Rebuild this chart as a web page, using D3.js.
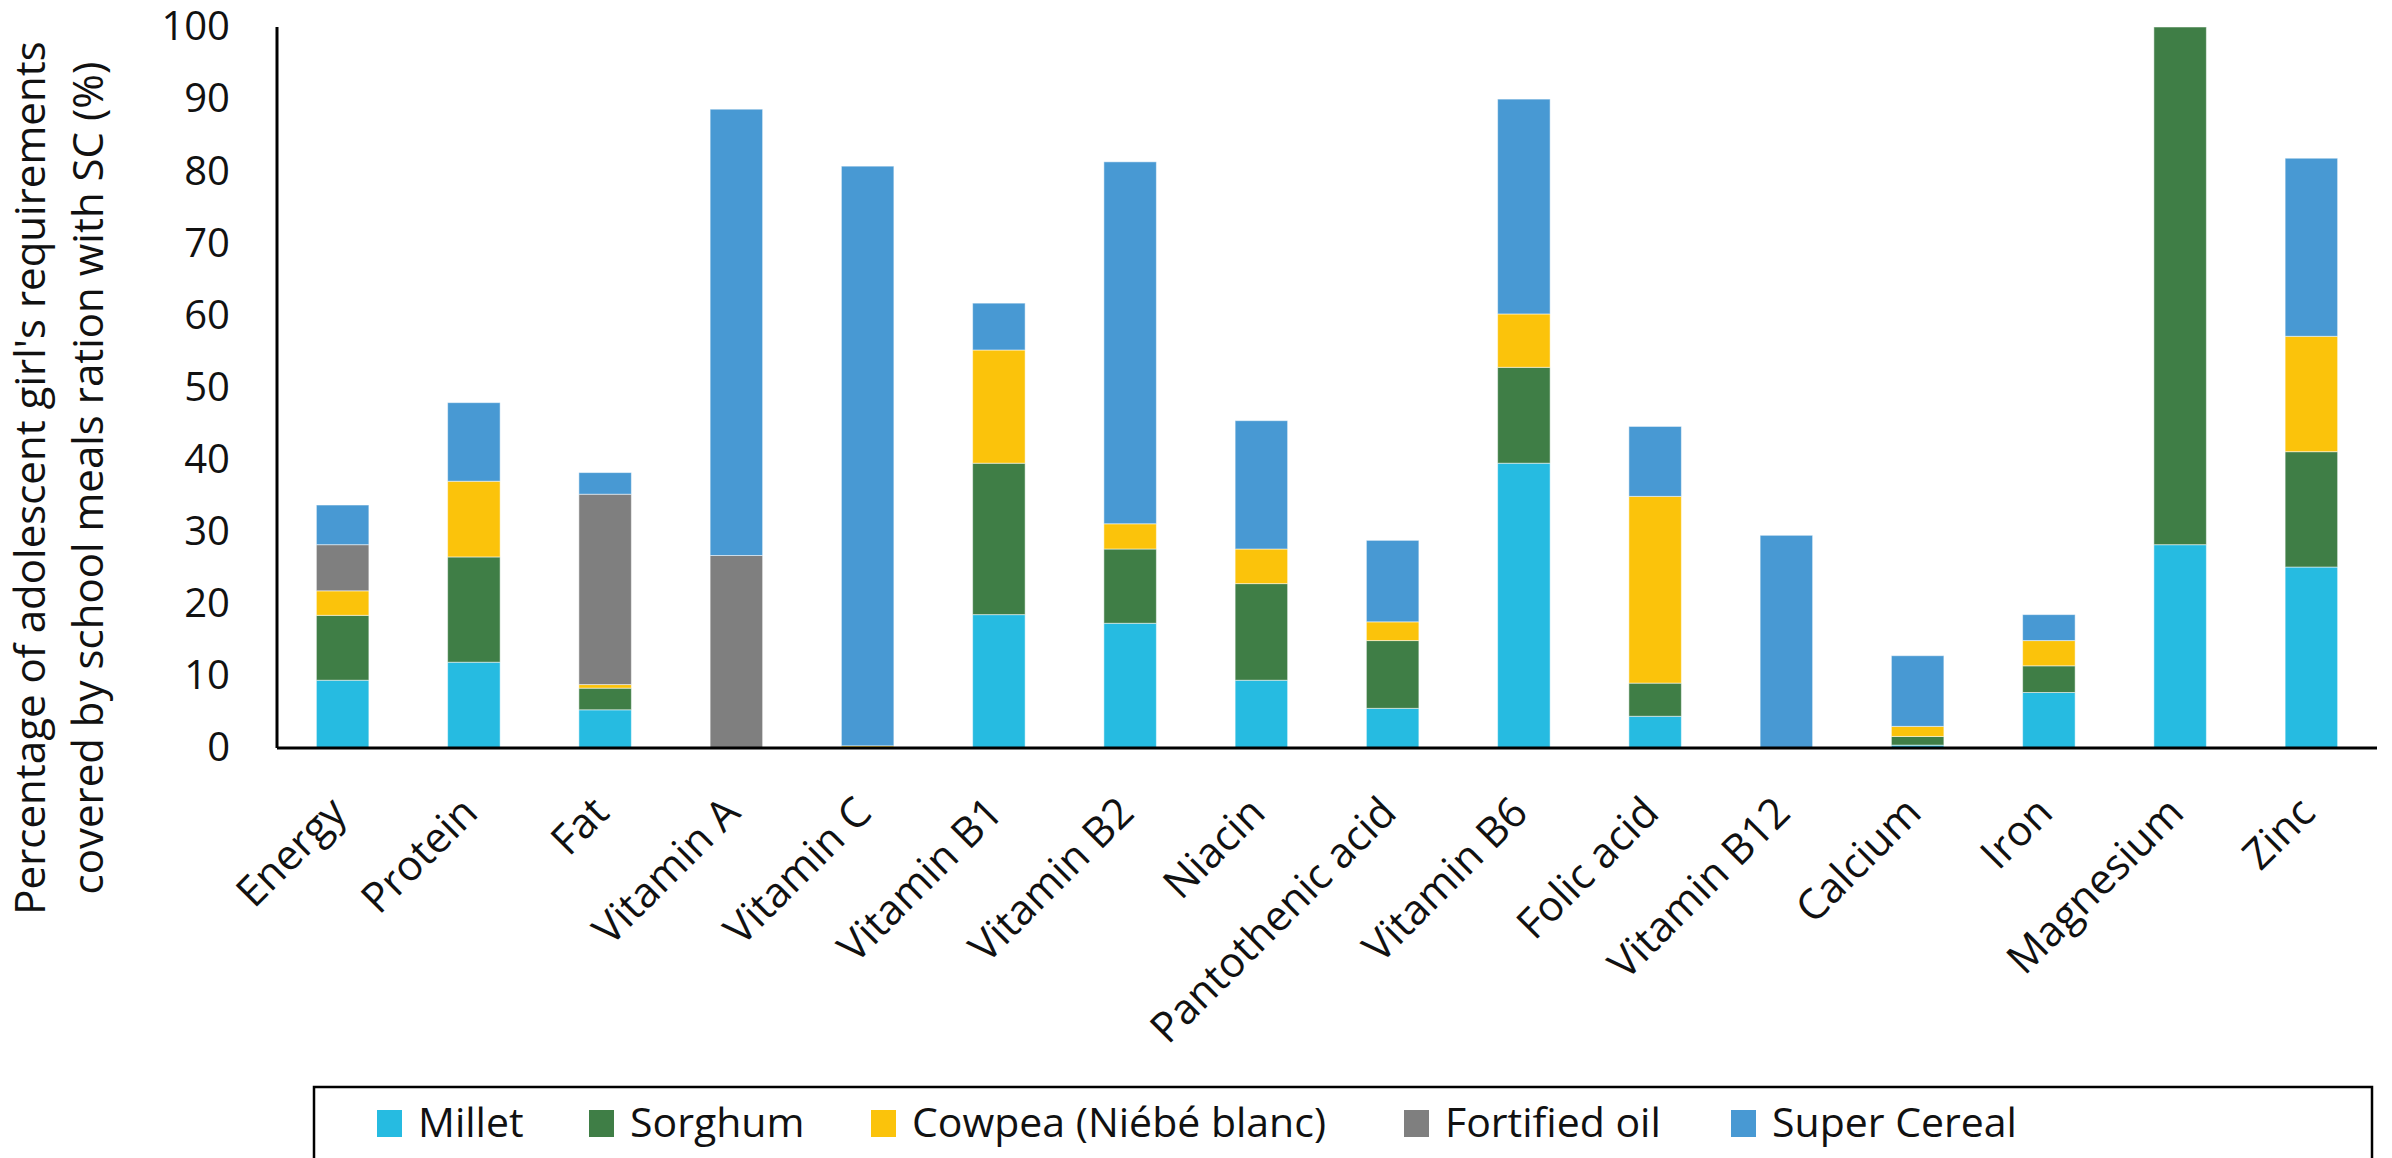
<!DOCTYPE html>
<html>
<head>
<meta charset="utf-8">
<script src="https://cdn.jsdelivr.net/npm/d3@7"></script>
<style>
  html, body { margin: 0; padding: 0; background: #fff; }
  svg { display: block; font-family: "Open Sans", "Noto Sans", sans-serif; }
</style>
</head>
<body>
<svg id="chart" width="2392" height="1158"></svg>
<script>
const categories = ["Energy", "Protein", "Fat", "Vitamin A", "Vitamin C", "Vitamin B1", "Vitamin B2", "Niacin",
  "Pantothenic acid", "Vitamin B6", "Folic acid", "Vitamin B12", "Calcium", "Iron", "Magnesium", "Zinc"];
const seriesNames = ["Millet", "Sorghum", "Cowpea (Niébé blanc)", "Fortified oil", "Super Cereal"];
const millet      = [9.4, 11.9, 5.3, 0, 0, 18.5, 17.3, 9.4, 5.5, 39.5, 4.4, 0, 0.4, 7.7, 28.2, 25.1];
const sorghum     = [9.0, 14.6, 3.0, 0, 0, 21.0, 10.3, 13.4, 9.4, 13.3, 4.6, 0, 1.2, 3.7, 71.8, 16.0];
const cowpea      = [3.4, 10.5, 0.5, 0, 0.3, 15.7, 3.5, 4.8, 2.6, 7.4, 25.9, 0, 1.4, 3.5, 0, 16.0];
const fortifiedOil= [6.4, 0, 26.4, 26.7, 0, 0, 0, 0, 0, 0, 0, 0, 0, 0, 0, 0];
const superCereal = [5.5, 10.9, 3.0, 61.9, 80.4, 6.5, 50.2, 17.8, 11.3, 29.8, 9.7, 29.5, 9.8, 3.6, 0, 24.7];
const yTicks = [0, 10, 20, 30, 40, 50, 60, 70, 80, 90, 100];
const colors = ["#26bbe1", "#3f7e46", "#fbc30b", "#7f7f7f", "#4899d3"];
const yTitleLines = ["Percentage of adolescent girl's requirements", "covered by school meals ration with SC (%)"];

const seriesValues = [millet, sorghum, cowpea, fortifiedOil, superCereal];
const keys = seriesNames;
const rows = categories.map((c, i) => {
  const r = { category: c };
  keys.forEach((k, j) => r[k] = seriesValues[j][i]);
  return r;
});

const svg = d3.select("#chart");
const plotL = 277, plotR = 2377, plotT = 27, plotB = 748;

const x = d3.scaleBand().domain(categories).range([plotL, plotR]).paddingInner(0.6).paddingOuter(0.3);
const y = d3.scaleLinear().domain([0, 100]).range([plotB, plotT]);
const color = d3.scaleOrdinal().domain(keys).range(colors);

const stacked = d3.stack().keys(keys)(rows);

svg.append("g").selectAll("g").data(stacked).join("g")
  .attr("fill", d => color(d.key))
  .selectAll("rect").data(d => d).join("rect")
  .attr("x", d => x(d.data.category))
  .attr("width", x.bandwidth())
  .attr("y", d => y(d[1]))
  .attr("height", d => Math.max(0, y(d[0]) - y(d[1])))
  .attr("stroke", d => (d[1] - d[0]) > 0 ? "rgba(255,255,255,0.5)" : "none")
  .attr("stroke-width", 1);

// Y axis
const yAxis = d3.axisLeft(y).tickValues(yTicks).tickSize(0).tickPadding(47);
const gy = svg.append("g").attr("transform", `translate(${plotL},0)`).call(yAxis);
gy.select(".domain").attr("stroke", "#000").attr("stroke-width", 3).attr("d", `M0,${plotT}V${plotB}`);
gy.selectAll("text").attr("font-size", 40).attr("fill", "#111").attr("font-family", "Open Sans");

// X axis
const xAxis = d3.axisBottom(x).tickSize(0).tickPadding(0);
const gx = svg.append("g").attr("transform", `translate(0,${plotB})`).call(xAxis);
gx.select(".domain").attr("stroke", "#000").attr("stroke-width", 3).attr("d", `M${plotL},0H${plotR}`);
gx.selectAll("text")
  .attr("font-size", 42).attr("fill", "#111").attr("font-family", "Open Sans")
  .attr("text-anchor", "end")
  .attr("dy", 0)
  .attr("y", 0)
  .attr("transform", "translate(6,67) rotate(-45)");

// Y title
const yt = svg.append("text")
  .attr("transform", "translate(0,478) rotate(-90)")
  .attr("text-anchor", "middle")
  .attr("font-size", 42).attr("fill", "#111");
yt.append("tspan").attr("x", 0).attr("y", 45).text(yTitleLines[0]);
yt.append("tspan").attr("x", 0).attr("y", 103).text(yTitleLines[1]);

// Legend
const legendX = [377, 589, 871, 1404, 1731];
svg.append("rect").attr("x", 314).attr("y", 1087).attr("width", 2058).attr("height", 100)
  .attr("fill", "none").attr("stroke", "#000").attr("stroke-width", 2.5);
const lg = svg.append("g").selectAll("g").data(keys).join("g")
  .attr("transform", (d, i) => `translate(${legendX[i]},1110)`);
lg.append("rect").attr("width", 25).attr("height", 27).attr("fill", d => color(d));
lg.append("text").attr("x", 41).attr("y", 27).attr("font-size", 41).attr("fill", "#111").text(d => d);
</script>
</body>
</html>
